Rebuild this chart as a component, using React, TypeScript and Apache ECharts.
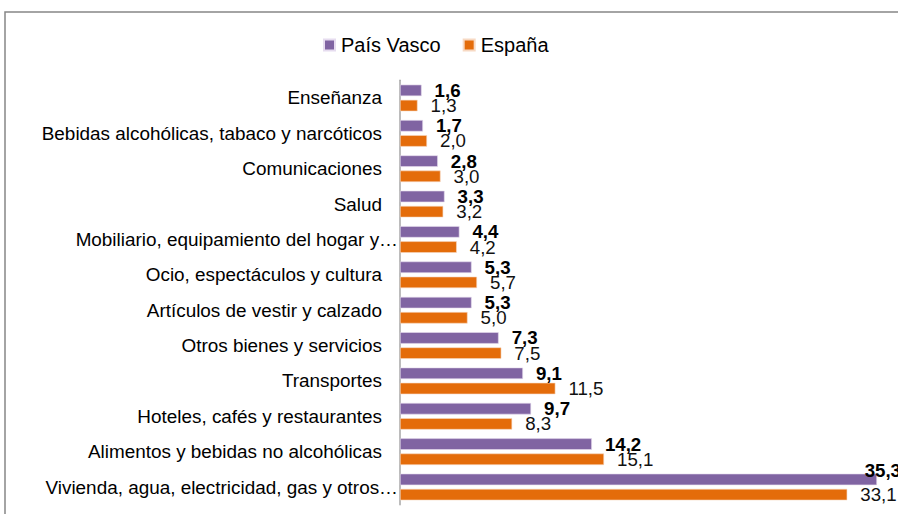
import React, { useEffect, useRef } from "react";
import * as echarts from "echarts";

const categories = [
  "Enseñanza",
  "Bebidas alcohólicas, tabaco y narcóticos",
  "Comunicaciones",
  "Salud",
  "Mobiliario, equipamiento del hogar y…",
  "Ocio, espectáculos y cultura",
  "Artículos de vestir y calzado",
  "Otros bienes y servicios",
  "Transportes",
  "Hoteles, cafés y restaurantes",
  "Alimentos y bebidas no alcohólicas",
  "Vivienda, agua, electricidad, gas y otros…",
];
const truncated = [false, false, false, false, true, false, false, false, false, false, false, true];
const paisVasco = [1.6, 1.7, 2.8, 3.3, 4.4, 5.3, 5.3, 7.3, 9.1, 9.7, 14.2, 35.3];
const espana = [1.3, 2.0, 3.0, 3.2, 4.2, 5.7, 5.0, 7.5, 11.5, 8.3, 15.1, 33.1];
const seriesNames = ["País Vasco", "España"];

const FONT = "Liberation Sans, Arial, sans-serif";

export default function App() {
  const ref = useRef<HTMLDivElement>(null);
  useEffect(() => {
    document.body.style.margin = "0";
    if (!ref.current) return;
    const chart = echarts.init(ref.current, undefined, { renderer: "svg" });
    const fmt = (p: any) => String(p.value.toFixed(1)).replace(".", ",");
    chart.setOption({
      animation: false,
      textStyle: { fontFamily: FONT },
      graphic: [
        {
          type: "rect",
          shape: { x: 5, y: 12, width: 1000, height: 600 },
          style: { fill: "none", stroke: "#868686", lineWidth: 1.5 },
          silent: true,
        },
      ],
      legend: {
        data: seriesNames,
        left: 318,
        top: 30,
        icon: "rect",
        itemWidth: 11,
        itemHeight: 11,
        itemGap: 22,
        textStyle: { fontFamily: FONT, fontSize: 20, color: "#000", padding: [0, 0, 0, 1] },
      },
      grid: { left: 400, top: 80.3, width: 477, height: 424.4, containLabel: false },
      xAxis: { type: "value", min: 0, max: 35.3, show: false },
      yAxis: {
        type: "category",
        inverse: true,
        data: categories,
        axisLine: { show: true, lineStyle: { color: "#a6a6a6", width: 1.5 } },
        axisTick: { show: false },
        axisLabel: {
          margin: 2,
          formatter: (v: string, i: number) => (truncated[i] ? `{e|${v}}` : `{n|${v}}`),
          rich: {
            n: { fontFamily: FONT, fontSize: 18.9, color: "#000", padding: [0, 16, 0, 0] },
            e: { fontFamily: FONT, fontSize: 18.9, color: "#000" },
          },
        },
      },
      series: [
        {
          name: seriesNames[0],
          type: "bar",
          data: paisVasco,
          barWidth: 11.5,
          barGap: "32%",
          itemStyle: { color: "#8064A2", borderColor: "#e6dcef", borderWidth: 0.6 },
          label: {
            show: true,
            position: "right",
            distance: 13,
            formatter: fmt,
            fontFamily: FONT,
            fontSize: 18.7,
            fontWeight: "bold",
            color: "#000",
          },
          labelLayout: (params: any) => {
            const r = params.labelRect;
            if (r && r.x + r.width > 901) {
              return { dx: 901 - (r.x + r.width), dy: -9 };
            }
            return {};
          },
        },
        {
          name: seriesNames[1],
          type: "bar",
          data: espana,
          barWidth: 11.5,
          barGap: "32%",
          itemStyle: { color: "#E46C0A", borderColor: "#f7d9c3", borderWidth: 0.6 },
          label: {
            show: true,
            position: "right",
            distance: 13,
            formatter: fmt,
            fontFamily: FONT,
            fontSize: 18.7,
            color: "#111",
          },
        },
      ],
    });
    return () => chart.dispose();
  }, []);
  return <div ref={ref} style={{ width: 898, height: 514 }} />;
}
